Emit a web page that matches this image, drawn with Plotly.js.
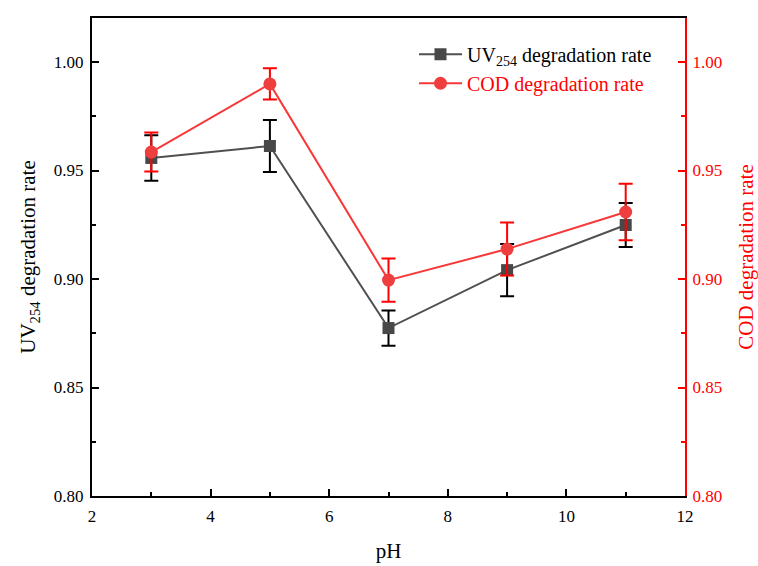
<!DOCTYPE html>
<html>
<head>
<meta charset="utf-8">
<script src="https://cdn.plot.ly/plotly-3.0.1.min.js"></script>
<style>html,body{margin:0;padding:0;background:#fff;}#chart{width:758px;height:566px;}</style>
</head>
<body>
<div id="chart"></div>
<script>
var pH = [3, 5, 7, 9, 11];
var uvRate = [0.9558, 0.9613, 0.8774, 0.9041, 0.9249];
var uvErr = [0.0105, 0.0120, 0.0081, 0.0120, 0.0101];
var codRate = [0.9585, 0.9899, 0.8995, 0.9138, 0.9309];
var codErr = [0.0090, 0.0072, 0.0100, 0.0122, 0.0130];
var xTicks = [2, 4, 6, 8, 10, 12];
var yTicks = [0.80, 0.85, 0.90, 0.95, 1.00];

var font = 'Liberation Serif';

var traces = [
  {
    x: pH, y: uvRate, yaxis: 'y', type: 'scatter', mode: 'lines+markers',
    name: 'UV<sub>254</sub> degradation rate',
    line: {color: '#505050', width: 2},
    marker: {symbol: 'square', size: 12, color: '#484848'},
    error_y: {type: 'data', array: uvErr, visible: true, color: '#000000', thickness: 2, width: 7}
  },
  {
    x: pH, y: codRate, yaxis: 'y2', type: 'scatter', mode: 'lines+markers',
    name: '<span style="color:#ff0000">COD degradation rate</span>',
    line: {color: '#f83838', width: 2},
    marker: {symbol: 'circle', size: 13, color: '#ef3e3e'},
    error_y: {type: 'data', array: codErr, visible: true, color: '#ff0000', thickness: 2, width: 7}
  }
];

var layout = {
  width: 758, height: 566,
  margin: {l: 92, r: 73, t: 18, b: 70},
  paper_bgcolor: '#ffffff', plot_bgcolor: '#ffffff',
  font: {family: font, size: 17, color: '#000'},
  showlegend: true,
  legend: {x: 0.543, y: 0.965, xanchor: 'left', yanchor: 'top', bgcolor: 'rgba(0,0,0,0)',
           itemwidth: 43,
           font: {family: font, size: 20, color: '#000'}, tracegroupgap: 0},
  xaxis: {
    range: [2, 12], tickvals: xTicks, ticktext: xTicks.map(String),
    showgrid: false, zeroline: false, showline: true, linecolor: '#000', linewidth: 2,
    mirror: true, ticks: 'inside', ticklen: 7, tickwidth: 2, tickcolor: '#000',
    minor: {dtick: 1, tick0: 2, ticks: 'inside', ticklen: 4, tickwidth: 2, tickcolor: '#000'},
    tickfont: {family: font, size: 17, color: '#000'}, ticklabelstandoff: 4,
    title: {text: 'pH', font: {family: font, size: 21, color: '#000'}, standoff: 18}
  },
  yaxis: {
    range: [0.8, 1.0203], tickvals: yTicks, ticktext: yTicks.map(function(v){return v.toFixed(2);}),
    showgrid: false, zeroline: false, showline: true, linecolor: '#000', linewidth: 2,
    ticks: 'inside', ticklen: 7, tickwidth: 2, tickcolor: '#000',
    minor: {dtick: 0.025, tick0: 0.8, ticks: 'inside', ticklen: 4, tickwidth: 2, tickcolor: '#000'},
    tickfont: {family: font, size: 17, color: '#000'}, ticklabelstandoff: 3,
    title: {text: 'UV<sub>254</sub> degradation rate', font: {family: font, size: 21, color: '#000'}, standoff: 12}
  },
  yaxis2: {
    overlaying: 'y', side: 'right',
    range: [0.8, 1.0203], tickvals: yTicks, ticktext: yTicks.map(function(v){return v.toFixed(2);}),
    showgrid: false, zeroline: false, showline: true, linecolor: '#ff0000', linewidth: 2,
    ticks: 'inside', ticklen: 7, tickwidth: 2, tickcolor: '#ff0000',
    minor: {dtick: 0.025, tick0: 0.8, ticks: 'inside', ticklen: 4, tickwidth: 2, tickcolor: '#ff0000'},
    tickfont: {family: font, size: 17, color: '#ff0000'}, ticklabelstandoff: 2,
    title: {text: 'COD degradation rate', font: {family: font, size: 21, color: '#ff0000'}, standoff: 20}
  }
};

Plotly.newPlot('chart', traces, layout, {displayModeBar: false, staticPlot: true});
</script>
</body>
</html>
